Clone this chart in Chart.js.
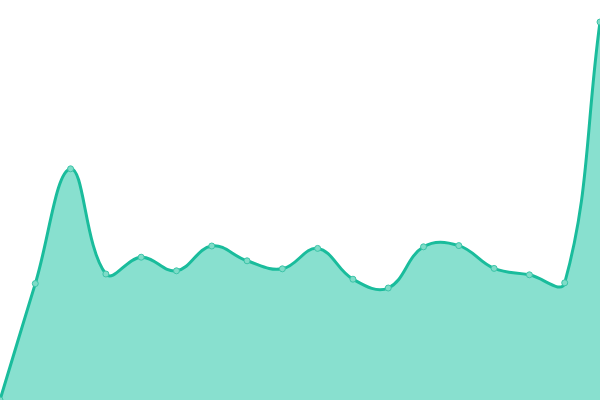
<!DOCTYPE html>
<html>
<head>
<meta charset="utf-8">
<script src="https://cdn.jsdelivr.net/npm/chart.js@4"></script>
<style>
html,body{margin:0;padding:0;background:#fff;overflow:hidden}
#wrap{width:600px;height:400px}
</style>
</head>
<body>
<div id="wrap"><canvas id="c" width="600" height="400"></canvas></div>
<script>
const labels = ["1","2","3","4","5","6","7","8","9","10","11","12","13","14","15","16","17","18"];
const values = [0, 29.1, 57.8, 31.5, 35.7, 32.3, 38.5, 34.8, 32.8, 37.9, 30.2, 28, 38.3, 38.6, 32.9, 31.3, 29.3, 94.5];
const yMin = 0;
const yMax = 100;

new Chart(document.getElementById('c'), {
  type: 'line',
  data: {
    labels: labels,
    datasets: [{
      data: values,
      borderColor: '#1abc9c',
      backgroundColor: '#88e0cf',
      borderWidth: 3,
      fill: true,
      tension: 0.4,
      pointRadius: 3,
      pointBorderWidth: 1,
      pointBackgroundColor: '#7fdcc8',
      pointBorderColor: '#3cc4a8'
    }]
  },
  options: {
    responsive: false,
    animation: false,
    devicePixelRatio: 1,
    layout: { padding: 0, autoPadding: false },
    plugins: { legend: { display: false }, tooltip: { enabled: false } },
    scales: {
      x: { display: false },
      y: { display: false, min: yMin, max: yMax }
    }
  }
});
</script>
</body>
</html>
